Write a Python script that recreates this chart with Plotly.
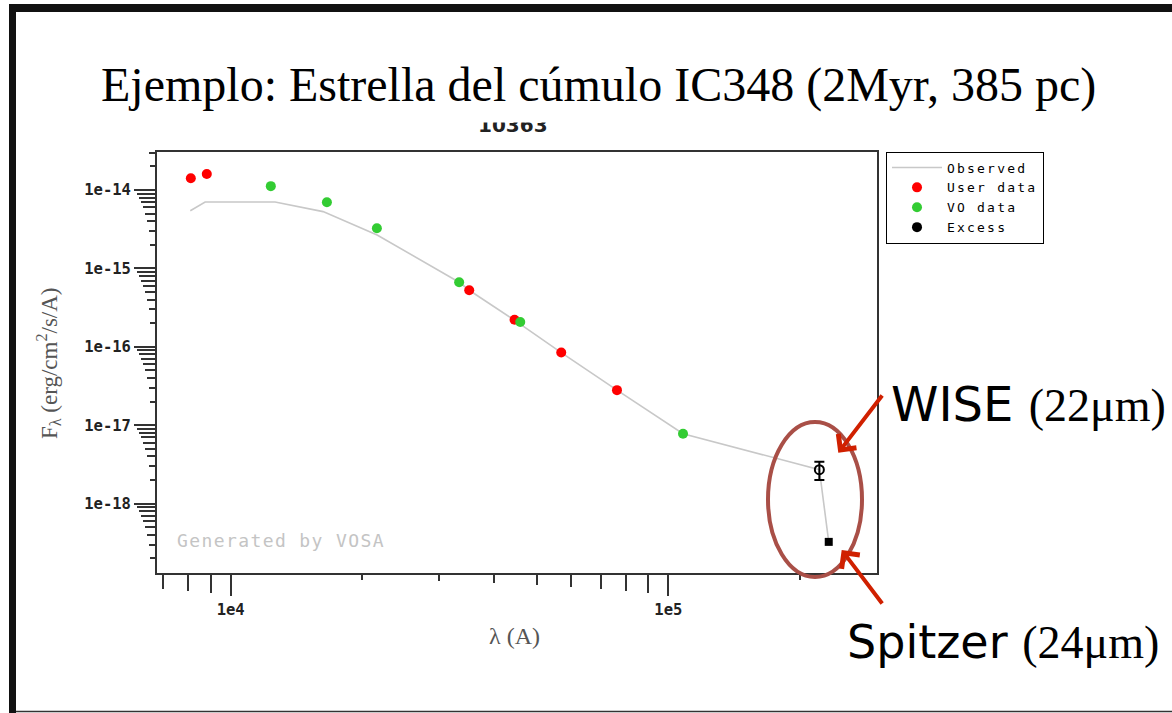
import plotly.graph_objects as go

# ---------------- data ----------------
observed_wl = [8085, 8740, 12630, 13450, 16260, 21610, 29020, 33270, 35080,
               44680, 56930, 76330, 108050, 221400, 232600]
observed_flux = [5.45e-15, 7.03e-15, 7.03e-15, 6.54e-15, 5.30e-15, 2.67e-15,
                 1.05e-15, 6.67e-16, 5.27e-16, 2.16e-16, 8.45e-17, 2.80e-17,
                 7.80e-18, 2.71e-18, 3.25e-19]

user_wl = [8107, 8818, 35080, 44530, 56930, 76330]
user_flux = [1.41e-14, 1.60e-14, 5.27e-16, 2.21e-16, 8.45e-17, 2.80e-17]

vo_wl = [12350, 16590, 21580, 33270, 45880, 108050]
vo_flux = [1.12e-14, 6.97e-15, 3.25e-15, 6.67e-16, 2.07e-16, 7.80e-18]

wise_wl = [221400]
wise_flux = [2.71e-18]
wise_err = [0.71e-18]
spitzer_wl = [232600]
spitzer_flux = [3.25e-19]

x_major = [1e4, 1e5]
x_major_text = ["1e4", "1e5"]
y_major = [1e-14, 1e-15, 1e-16, 1e-17, 1e-18]
y_major_text = ["1e-14", "1e-15", "1e-16", "1e-17", "1e-18"]
x_decades = [3, 4, 5]
y_decades = [-19, -18, -17, -16, -15, -14]

# ---------------- layout geometry ----------------
W, H = 1172, 713
L, R, T, B = 157, 877, 152, 573
XR = [3.8316, 5.4769]
YR = [-18.885, -13.515]
TICKC = "#333"


def px(x):
    return (x - L) / (R - L)


def py(y):
    return (B - y) / (B - T)


def spaced(s, sp):
    return f'<span style="letter-spacing:{sp}px">{s}</span>'


LEG_SP = 2.2
fig = go.Figure()
fig.add_trace(go.Scatter(x=observed_wl, y=observed_flux, mode="lines",
                         line=dict(color="#c8c8c8", width=1.6),
                         name=spaced("Observed", LEG_SP)))
fig.add_trace(go.Scatter(x=user_wl, y=user_flux, mode="markers",
                         marker=dict(color="#ff0000", size=10),
                         name=spaced("User data", LEG_SP)))
fig.add_trace(go.Scatter(x=vo_wl, y=vo_flux, mode="markers",
                         marker=dict(color="#33cc33", size=10),
                         name=spaced("VO data", LEG_SP)))
fig.add_trace(go.Scatter(x=[None], y=[None], mode="markers",
                         marker=dict(color="black", size=10),
                         name=spaced("Excess", LEG_SP)))
fig.add_trace(go.Scatter(x=wise_wl, y=wise_flux, mode="markers", showlegend=False,
                         marker=dict(color="black", symbol="circle-open", size=9,
                                     line=dict(width=2, color="black")),
                         error_y=dict(type="data", array=wise_err, color="black",
                                      thickness=2, width=5)))
fig.add_trace(go.Scatter(x=spitzer_wl, y=spitzer_flux, mode="markers", showlegend=False,
                         marker=dict(color="black", symbol="square", size=8)))

tickfont = dict(family="DejaVu Sans Mono", size=15.5, color="#222", weight="bold")
axis_common = dict(showgrid=False, zeroline=False, ticks="outside", tickwidth=2,
                   tickcolor=TICKC)

x_minor_all = [d * 10.0 ** e for e in x_decades for d in range(2, 10)]
y_minor_all = [d * 10.0 ** e for e in y_decades for d in range(2, 10)]


def minor(vals, ln):
    return dict(tickmode="array", tickvals=vals, ticks="outside", ticklen=ln,
                tickwidth=2, tickcolor=TICKC, showgrid=False)


layout = dict(
    width=W, height=H, autosize=False,
    margin=dict(l=L, r=W - R, t=T, b=H - B, pad=0),
    paper_bgcolor="white", plot_bgcolor="white",
    xaxis=dict(type="log", range=XR, tickmode="array", tickvals=x_major,
               ticktext=x_major_text, ticklen=21, showline=True, linecolor=TICKC,
               linewidth=2, mirror=True, tickfont=tickfont,
               minor=minor(x_minor_all, 5), **axis_common),
    yaxis=dict(type="log", range=YR, tickmode="array", tickvals=y_major,
               ticktext=y_major_text, ticklen=21, showline=True, linecolor=TICKC,
               linewidth=2, mirror=True, tickfont=tickfont,
               minor=minor(y_minor_all, 5), **axis_common),
    legend=dict(x=px(886), y=py(151.5), xanchor="left", yanchor="top",
                bgcolor="white", bordercolor="black", borderwidth=1,
                font=dict(family="DejaVu Sans Mono", size=13, color="black"),
                itemwidth=50, tracegroupgap=0),
    showlegend=True,
)

# extra tick layers: decade ticks (digit 1) are longest, then length grows with digit
for d in range(1, 10):
    k = d + 1
    ln = 21 if d == 1 else 5 + 2 * (d - 2)
    layout[f"xaxis{k}"] = dict(type="log", range=XR, overlaying="x", anchor="y",
                               side="bottom", tickmode="array", tickvals=[],
                               showticklabels=False, showline=False, ticklen=ln,
                               minor=minor([d * 10.0 ** e for e in x_decades], ln),
                               **axis_common)
    layout[f"yaxis{k}"] = dict(type="log", range=YR, overlaying="y", anchor="x",
                               side="left", tickmode="array", tickvals=[],
                               showticklabels=False, showline=False, ticklen=ln,
                               minor=minor([d * 10.0 ** e for e in y_decades], ln),
                               **axis_common)
    fig.add_trace(go.Scatter(x=[None], y=[None], xaxis=f"x{k}", yaxis="y",
                             showlegend=False, hoverinfo="skip"))
    fig.add_trace(go.Scatter(x=[None], y=[None], xaxis="x", yaxis=f"y{k}",
                             showlegend=False, hoverinfo="skip"))

fig.update_layout(**layout)

annotations = [
    dict(text="10363", x=px(513), y=py(125), font=dict(family="DejaVu Sans", size=20,
         color="#222", weight="bold")),
    dict(text="Ejemplo: Estrella del cúmulo IC348 (2Myr, 385 pc)", x=px(598), y=py(85),
         font=dict(family="Liberation Serif", size=48, color="black"),
         bgcolor="white", borderpad=10),
    dict(text=spaced("Generated by VOSA", 1.4), x=px(175), y=py(540), xanchor="left",
         font=dict(family="DejaVu Sans Mono", size=18, color="#c4c4c4")),
    dict(text="F<sub>λ</sub> (erg/cm<sup>2</sup>/s/A)", x=px(48), y=py(363),
         textangle=-90, font=dict(family="Liberation Serif", size=23, color="#555")),
    dict(text="λ (A)", x=px(514), y=py(636),
         font=dict(family="Liberation Serif", size=24, color="#555")),
    dict(text='WISE <span style="font-family:Liberation Serif,serif;font-size:46px">(22μm)</span>',
         x=px(889), y=py(404), xanchor="left",
         font=dict(family="DejaVu Sans", size=48, color="black")),
    dict(text='Spitzer <span style="font-family:Liberation Serif,serif;font-size:46px">(24μm)</span>',
         x=px(845), y=py(642), xanchor="left",
         font=dict(family="DejaVu Sans", size=46, color="black")),
    dict(text="", x=px(838.3), y=py(452.7), showarrow=True, ax=45, ay=-58.7,
         arrowhead=4, arrowsize=1.1, arrowwidth=4, arrowcolor="#d02000", standoff=0),
    dict(text="", x=px(841.7), y=py(550), showarrow=True, ax=41.6, ay=55,
         arrowhead=4, arrowsize=1.1, arrowwidth=4, arrowcolor="#d02000", standoff=0),
]
for a in annotations:
    a.setdefault("xref", "paper")
    a.setdefault("yref", "paper")
    a.setdefault("showarrow", False)
    a.setdefault("xanchor", "center")
    a.setdefault("yanchor", "middle")
fig.update_layout(annotations=annotations)

shapes = [
    # highlight ellipse
    dict(type="circle", xref="paper", yref="paper", x0=px(768), x1=px(862),
         y0=py(577), y1=py(422), line=dict(color="#a94f47", width=4)),
    # slide frame
    dict(type="rect", xref="paper", yref="paper", x0=px(10), x1=px(1180),
         y0=py(12), y1=py(4), fillcolor="#111", line=dict(width=0)),
    dict(type="rect", xref="paper", yref="paper", x0=px(9), x1=px(16),
         y0=py(720), y1=py(4), fillcolor="#111", line=dict(width=0)),
    dict(type="line", xref="paper", yref="paper", x0=px(16), x1=px(1180),
         y0=py(711.5), y1=py(711.5), line=dict(color="#333", width=1.5)),
]
fig.update_layout(shapes=shapes)

fig.write_html("out.html")
